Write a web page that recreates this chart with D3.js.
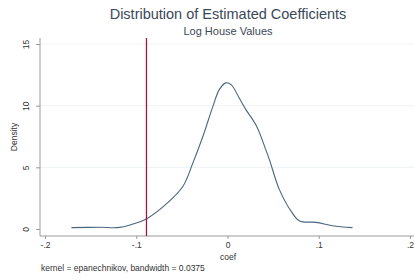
<!DOCTYPE html>
<html>
<head>
<meta charset="utf-8">
<script src="https://cdn.jsdelivr.net/npm/d3@7"></script>
<style>
  body { margin: 0; background: #fff; }
  svg { display: block; font-family: "Liberation Sans", Arial, sans-serif; }
</style>
</head>
<body>
<div id="holder"></div>
<script>
const w = 414;
const h = 280;

// DATA
const coef = [-0.171, -0.140, -0.118, -0.096, -0.088, -0.067, -0.049, -0.038, -0.027, -0.016, -0.009, -0.002, 0.004, 0.013, 0.020, 0.032, 0.042, 0.046, 0.057, 0.070, 0.079, 0.097, 0.115, 0.137];
const density = [0.11, 0.14, 0.13, 0.59, 0.85, 2.03, 3.44, 5.34, 7.50, 9.94, 11.30, 11.85, 11.71, 10.60, 9.70, 8.32, 6.42, 5.61, 3.17, 1.41, 0.65, 0.54, 0.27, 0.11];
const xTicks = [-0.2, -0.1, 0, 0.1, 0.2];
const xTickLabels = ["-.2", "-.1", "0", ".1", ".2"];
const yTicks = [0, 5, 10, 15];
const xLineAt = -0.0888;

const svg = d3.select("#holder")
    .append("svg")
    .attr("width", w)
    .attr("height", h);

// SCALES
const xScale = d3.scaleLinear().domain([-0.2, 0.2]).range([45, 410]);
const yScale = d3.scaleLinear().domain([0, 15]).range([229, 44]);

const plotTop = 38, plotBottom = 236, axisX = 40;

// GRID
svg.append("g")
    .selectAll("line")
    .data(yTicks.slice(1))
    .enter()
    .append("line")
    .attr("x1", axisX)
    .attr("x2", 414)
    .attr("y1", d => yScale(d))
    .attr("y2", d => yScale(d))
    .attr("stroke", "#eef2f4")
    .attr("stroke-width", 1);

// X AXIS
const xAxis = d3.axisBottom(xScale)
    .tickValues(xTicks)
    .tickFormat((d, i) => xTickLabels[i])
    .tickSize(3)
    .tickPadding(3);

const gx = svg.append("g")
    .attr("transform", "translate(0," + plotBottom + ")")
    .call(xAxis);
gx.select(".domain").remove();
gx.append("line").attr("x1", axisX).attr("x2", 414).attr("stroke", "#9a9a9a");
gx.selectAll(".tick line").attr("stroke", "#9a9a9a");
gx.selectAll(".tick text").attr("fill", "#333").style("font-size", "8.5px");

// Y AXIS
const yAxis = d3.axisLeft(yScale)
    .tickValues(yTicks)
    .tickSize(4)
    .tickPadding(0);

const gy = svg.append("g")
    .attr("transform", "translate(" + axisX + ",0)")
    .call(yAxis);
gy.select(".domain").remove();
gy.append("line").attr("y1", plotTop).attr("y2", plotBottom).attr("stroke", "#9a9a9a");
gy.selectAll(".tick line").attr("stroke", "#9a9a9a");
gy.selectAll(".tick text")
    .attr("fill", "#333")
    .style("font-size", "8.5px")
    .attr("text-anchor", "middle")
    .attr("dy", null)
    .attr("x", null)
    .attr("transform", "translate(-11,0) rotate(-90)");

// CURVE
const line = d3.line()
    .x((d, i) => xScale(coef[i]))
    .y(d => yScale(d))
    .curve(d3.curveCatmullRom.alpha(0.5));

svg.append("path")
    .datum(density)
    .attr("d", line)
    .attr("fill", "none")
    .attr("stroke", "#4a6580")
    .attr("stroke-width", 1.1);

// REFERENCE LINE
svg.append("line")
    .attr("x1", xScale(xLineAt))
    .attr("x2", xScale(xLineAt))
    .attr("y1", plotTop)
    .attr("y2", plotBottom)
    .attr("stroke", "#a0183c")
    .attr("stroke-width", 1.3);

// TITLES
svg.append("text")
    .attr("x", 228).attr("y", 19)
    .attr("text-anchor", "middle")
    .attr("fill", "#3a4858")
    .style("font-size", "14.5px")
    .text("Distribution of Estimated Coefficients");

svg.append("text")
    .attr("x", 228).attr("y", 35)
    .attr("text-anchor", "middle")
    .attr("fill", "#3a4858")
    .style("font-size", "11px")
    .text("Log House Values");

svg.append("text")
    .attr("x", 228).attr("y", 260)
    .attr("text-anchor", "middle")
    .attr("fill", "#333")
    .style("font-size", "8.5px")
    .text("coef");

svg.append("text")
    .attr("transform", "translate(17,137) rotate(-90)")
    .attr("text-anchor", "middle")
    .attr("fill", "#333")
    .style("font-size", "8.5px")
    .text("Density");

svg.append("text")
    .attr("x", 41).attr("y", 271)
    .attr("fill", "#333")
    .style("font-size", "8.5px")
    .text("kernel = epanechnikov, bandwidth = 0.0375");
</script>
</body>
</html>
